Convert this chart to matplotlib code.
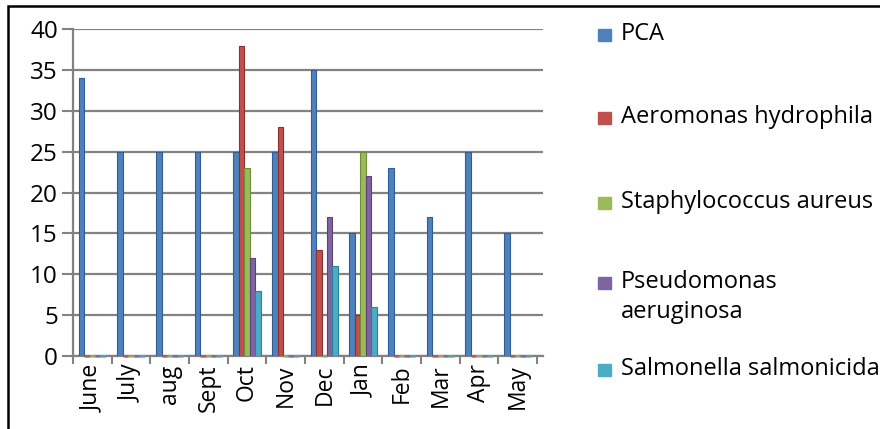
import matplotlib.pyplot as plt
import numpy as np
from matplotlib.patches import Rectangle

plt.rcParams['font.family'] = ['Open Sans', 'DejaVu Sans']

# monthly counts per organism
months = ['June', 'July', 'aug', 'Sept', 'Oct', 'Nov', 'Dec', 'Jan', 'Feb', 'Mar', 'Apr', 'May']
series_names = ['PCA', 'Aeromonas hydrophila', 'Staphylococcus aureus',
                'Pseudomonas aeruginosa', 'Salmonella salmonicida']
pca = [34, 25, 25, 25, 25, 25, 35, 15, 23, 17, 25, 15]
aeromonas = [0, 0, 0, 0, 38, 28, 13, 5, 0, 0, 0, 0]
staph = [0, 0, 0, 0, 23, 0, 0, 25, 0, 0, 0, 0]
pseudomonas = [0, 0, 0, 0, 12, 0, 17, 22, 0, 0, 0, 0]
salmonella = [0, 0, 0, 0, 8, 0, 11, 6, 0, 0, 0, 0]

colors = ['#4F81BD', '#C0504D', '#9BBB59', '#8064A2', '#4BACC6']
edges = ['#2f5d94', '#8e2f2c', '#6f8c37', '#5a4378', '#2c8099']
legend_lines = ['PCA', 'Aeromonas hydrophila', 'Staphylococcus aureus',
                'Pseudomonas\naeruginosa', 'Salmonella salmonicida']

all_series = [pca, aeromonas, staph, pseudomonas, salmonella]
x = np.arange(len(months))
width = 0.14

fig = plt.figure(figsize=(8.8, 4.29), dpi=100)
ax = fig.add_axes([0.083, 0.170, 0.534, 0.762])

grid_col = '#828282'
for i, (vals, c, ec) in enumerate(zip(all_series, colors, edges)):
    bars = ax.bar(x + (i - 2) * width, vals, width, color=c, edgecolor=ec,
                  linewidth=0.8, zorder=3)
    # zero-height bars still show a flat stub on the floor
    for b, v in zip(bars, vals):
        if v == 0:
            b.set_edgecolor(c)
            b.set_linewidth(2)
            b.set_alpha(0.7)
            b.set_clip_on(False)

ax.set_xlim(-0.5, 11.655)
ax.set_ylim(0, 40)
ax.set_yticks(np.arange(0, 41, 5))
ax.yaxis.grid(True, color=grid_col, linewidth=1.6, zorder=0)
ax.set_axisbelow(True)

ax.set_xticks(x)
ax.set_xticklabels(months, rotation=90, fontsize=16.5)
ax.set_xticks(np.arange(-0.5, 12, 1), minor=True)
ax.tick_params(axis='x', which='major', length=0, pad=6)
ax.tick_params(axis='x', which='minor', length=6, width=1.5, color=grid_col)
ax.tick_params(axis='y', length=8, width=1.5, color=grid_col, labelsize=17.5, pad=3)

for side in ['top', 'right']:
    ax.spines[side].set_visible(False)
for side in ['left', 'bottom']:
    ax.spines[side].set_color(grid_col)
    ax.spines[side].set_linewidth(1.6)

# legend drawn at the right, Excel style with wide spacing
leg_y = [35, 118, 203, 283, 370]
for name, c, yy in zip(legend_lines, colors, leg_y):
    fig.add_artist(Rectangle((598 / 880, 1 - (yy + 6) / 429), 13 / 880, 12 / 429,
                             transform=fig.transFigure, color=c))
    fig.text(621 / 880, 1 - (yy - 13) / 429, name, va='top', ha='left',
             fontsize=17, linespacing=1.35)

# outer chart border
fig.add_artist(Rectangle((8 / 880, -0.2), 1.5, 1.2 - 6 / 429, transform=fig.transFigure,
                         fill=False, edgecolor='black', linewidth=1.8))

fig.savefig('out.png', dpi=100)
